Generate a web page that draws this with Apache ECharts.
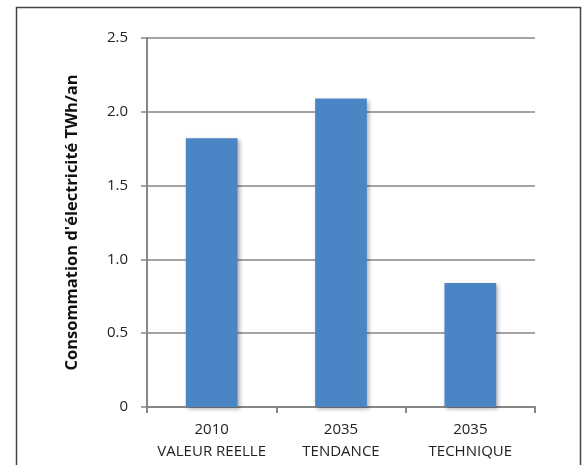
<!DOCTYPE html>
<html>
<head>
<meta charset="utf-8">
<script src="https://cdn.jsdelivr.net/npm/echarts@6/dist/echarts.min.js"></script>
<style>
  html, body { margin: 0; padding: 0; background: #fff; }
  #chart { width: 587px; height: 465px; }
</style>
</head>
<body>
<div id="chart"></div>
<script>
// données
const categories = ['2010\nVALEUR REELLE', '2035\nTENDANCE', '2035\nTECHNIQUE']
const consommation = [1.82, 2.09, 0.84]
const yTitle = "Consommation d'électricité TWh/an"

const chart = echarts.init(document.getElementById('chart'))

const axisGray = '#868686'

const option = {
  animation: false,
  textStyle: { fontFamily: '"Open Sans", "Noto Sans", sans-serif' },
  graphic: [
    {
      type: 'rect',
      shape: { x: 16.5, y: 7.5, width: 564, height: 470 },
      style: { fill: 'none', stroke: '#444', lineWidth: 1.5 }
    }
  ],
  grid: {
    left: 147,
    right: 52,
    top: 38,
    bottom: 58
  },
  xAxis: {
    type: 'category',
    data: categories,
    axisLine: { lineStyle: { color: axisGray, width: 2 } },
    axisTick: { show: true, length: 6, lineStyle: { color: axisGray, width: 2 } },
    axisLabel: {
      interval: 0,
      hideOverlap: false,
      color: '#222',
      fontSize: 15,
      lineHeight: 22,
      margin: 12
    }
  },
  yAxis: {
    type: 'value',
    min: 0,
    max: 2.5,
    interval: 0.5,
    name: yTitle,
    nameLocation: 'middle',
    nameRotate: 90,
    nameGap: 66,
    nameTextStyle: { color: '#111', fontSize: 16.5, fontWeight: 'bold' },
    axisLine: { show: true, lineStyle: { color: axisGray, width: 2 } },
    axisTick: { show: true, length: 6, lineStyle: { color: axisGray, width: 1.5 } },
    axisLabel: {
      color: '#222',
      fontSize: 15,
      margin: 19,
      formatter: v => (v === 0 ? '0' : v.toFixed(1))
    },
    splitLine: { lineStyle: { color: axisGray, width: 1.5 } }
  },
  series: [
    {
      type: 'bar',
      data: consommation,
      barWidth: '40%',
      itemStyle: {
        color: '#4a86c6',
        shadowColor: 'rgba(0,0,0,0.3)',
        shadowBlur: 4,
        shadowOffsetX: 2,
        shadowOffsetY: 2
      }
    }
  ]
}

chart.setOption(option)
</script>
</body>
</html>
